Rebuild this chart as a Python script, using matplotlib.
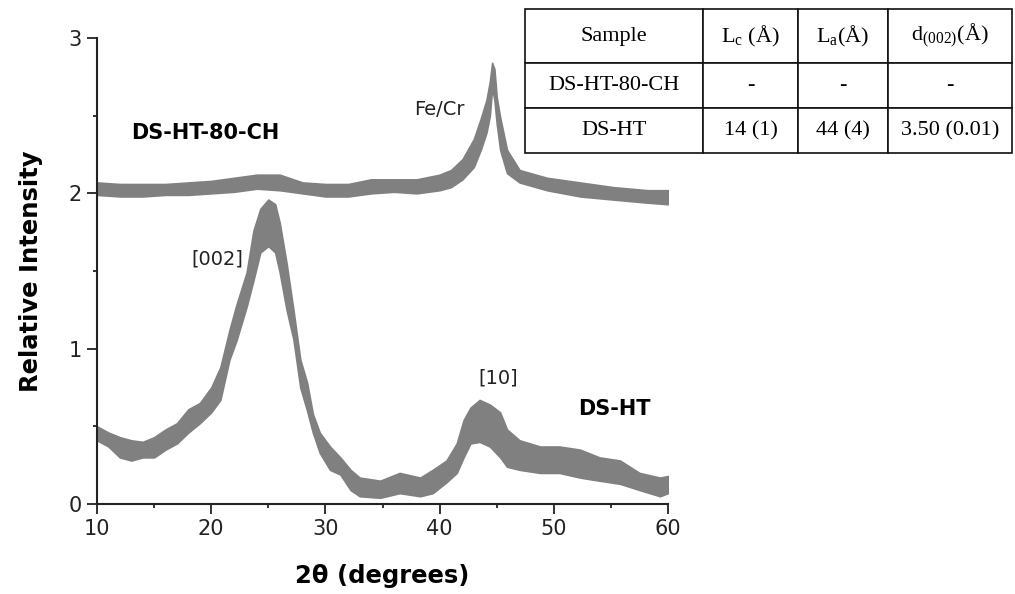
import matplotlib
matplotlib.use('Agg')
import matplotlib.pyplot as plt

# DS-HT pattern: 2theta and lower/upper edge of the noisy trace
ht_x = [10, 11, 12, 13, 14, 15, 16, 17, 18, 19, 20, 20.8, 21.6, 22.2, 23.1, 23.7, 24.3, 25.0, 25.6, 26.0,
        26.6, 27.2, 27.8, 28.4, 28.9, 29.5, 30.4, 31.3, 32.2, 33.0, 34.8, 36.5, 38.3, 39.4, 40.6, 41.5,
        42.1, 42.7, 43.5, 44.4, 45.3, 45.9, 47.0, 48.8, 50.5, 52.3, 54.0, 55.8, 57.5, 59.3, 60]
ht_lo = [0.41, 0.37, 0.30, 0.28, 0.30, 0.30, 0.35, 0.39, 0.46, 0.52, 0.59, 0.67, 0.93, 1.05, 1.27, 1.44, 1.62,
         1.66, 1.62, 1.49, 1.25, 1.06, 0.75, 0.60, 0.46, 0.33, 0.22, 0.19, 0.09, 0.05, 0.04, 0.07, 0.05, 0.07,
         0.14, 0.20, 0.30, 0.39, 0.40, 0.37, 0.30, 0.24, 0.22, 0.20, 0.20, 0.17, 0.15, 0.13, 0.09, 0.05, 0.07]
ht_hi = [0.50, 0.46, 0.43, 0.41, 0.40, 0.43, 0.48, 0.52, 0.61, 0.65, 0.75, 0.88, 1.12, 1.28, 1.49, 1.76, 1.90,
         1.96, 1.93, 1.81, 1.55, 1.25, 0.93, 0.78, 0.58, 0.46, 0.37, 0.30, 0.22, 0.17, 0.15, 0.20, 0.17, 0.22,
         0.28, 0.39, 0.54, 0.62, 0.67, 0.64, 0.59, 0.48, 0.41, 0.37, 0.37, 0.35, 0.30, 0.28, 0.20, 0.17, 0.18]

# DS-HT-80-CH pattern (offset by 2)
ch_x = [10, 12, 14, 16, 18, 20, 22, 24, 26, 28, 30, 32, 34, 36, 38, 40, 41, 42, 43, 43.6, 44.1, 44.4,
        44.6, 44.8, 45.0, 45.3, 45.9, 47.0, 49.4, 52.3, 55.2, 58.2, 60]
ch_lo = [1.99, 1.98, 1.98, 1.99, 1.99, 2.00, 2.01, 2.03, 2.02, 2.00, 1.98, 1.98, 2.00, 2.01, 2.00, 2.02, 2.04,
         2.09, 2.17, 2.28, 2.39, 2.50, 2.68, 2.60, 2.45, 2.28, 2.13, 2.07, 2.02, 1.98, 1.96, 1.94, 1.93]
ch_hi = [2.07, 2.06, 2.06, 2.06, 2.07, 2.08, 2.10, 2.12, 2.12, 2.07, 2.06, 2.06, 2.09, 2.09, 2.09, 2.12, 2.15,
         2.22, 2.35, 2.48, 2.60, 2.72, 2.84, 2.80, 2.62, 2.49, 2.28, 2.15, 2.10, 2.07, 2.04, 2.02, 2.02]

col_labels = ['Sample', 'L$_\\mathrm{c}$ (Å)', 'L$_\\mathrm{a}$(Å)', 'd$_{(002)}$(Å)']
rows = [['DS-HT-80-CH', '-', '-', '-'],
        ['DS-HT', '14 (1)', '44 (4)', '3.50 (0.01)']]

gray = '#808080'
plt.rcParams['mathtext.fontset'] = 'custom'
plt.rcParams['mathtext.rm'] = 'Liberation Serif'

fig = plt.figure(figsize=(10.15, 5.94), dpi=100)
ax = fig.add_axes([97 / 1015, 1 - 504 / 594, 571 / 1015, 466 / 594])

ax.fill_between(ht_x, ht_lo, ht_hi, color=gray, lw=1.2, edgecolor=gray)
ax.fill_between(ch_x, ch_lo, ch_hi, color=gray, lw=1.2, edgecolor=gray)

ax.set_xlim(10, 60)
ax.set_ylim(0, 3)
ax.set_xticks([10, 20, 30, 40, 50, 60])
ax.set_xticks([15, 25, 35, 45, 55], minor=True)
ax.set_yticks([0, 1, 2, 3])
ax.set_yticks([0.5, 1.5, 2.5], minor=True)
for s in ['top', 'right']:
    ax.spines[s].set_visible(False)
for s in ['left', 'bottom']:
    ax.spines[s].set_linewidth(1.5)
    ax.spines[s].set_color('#222222')
ax.tick_params(which='major', direction='out', length=7, width=1.3, labelsize=15, colors='#222222', pad=4)
ax.tick_params(which='minor', direction='out', length=3, width=1.3, colors='#222222')

ax.set_xlabel('2θ (degrees)', fontsize=17.5, fontweight='bold', labelpad=18)
ax.set_ylabel('Relative Intensity', fontsize=17.5, fontweight='bold', labelpad=18)

ax.text(13.0, 2.39, 'DS-HT-80-CH', fontsize=15, fontweight='bold', va='center', ha='left')
ax.text(40.0, 2.54, 'Fe/Cr', fontsize=14, va='center', ha='center', color='#222222')
ax.text(20.5, 1.58, '[002]', fontsize=14, va='center', ha='center', color='#222222')
ax.text(45.1, 0.81, '[10]', fontsize=14, va='center', ha='center', color='#222222')
ax.text(55.3, 0.61, 'DS-HT', fontsize=15, fontweight='bold', va='center', ha='center')

# table in the top right
tax = fig.add_axes([525 / 1015, 1 - 153 / 594, 487 / 1015, 144 / 594])
tax.axis('off')
widths = [178, 95, 90, 124]
tbl = tax.table(cellText=rows, colLabels=col_labels, colWidths=[w / sum(widths) for w in widths],
                cellLoc='center', bbox=[0, 0, 1, 1])
tbl.auto_set_font_size(False)
for (r, c), cell in tbl.get_celld().items():
    cell.set_height(54 if r == 0 else 45)
    cell.set_linewidth(1.2)
    cell.set_edgecolor('#111111')
    cell.get_text().set_fontfamily('Liberation Serif')
    cell.get_text().set_fontsize(16)

fig.savefig('out.png', dpi=100)
